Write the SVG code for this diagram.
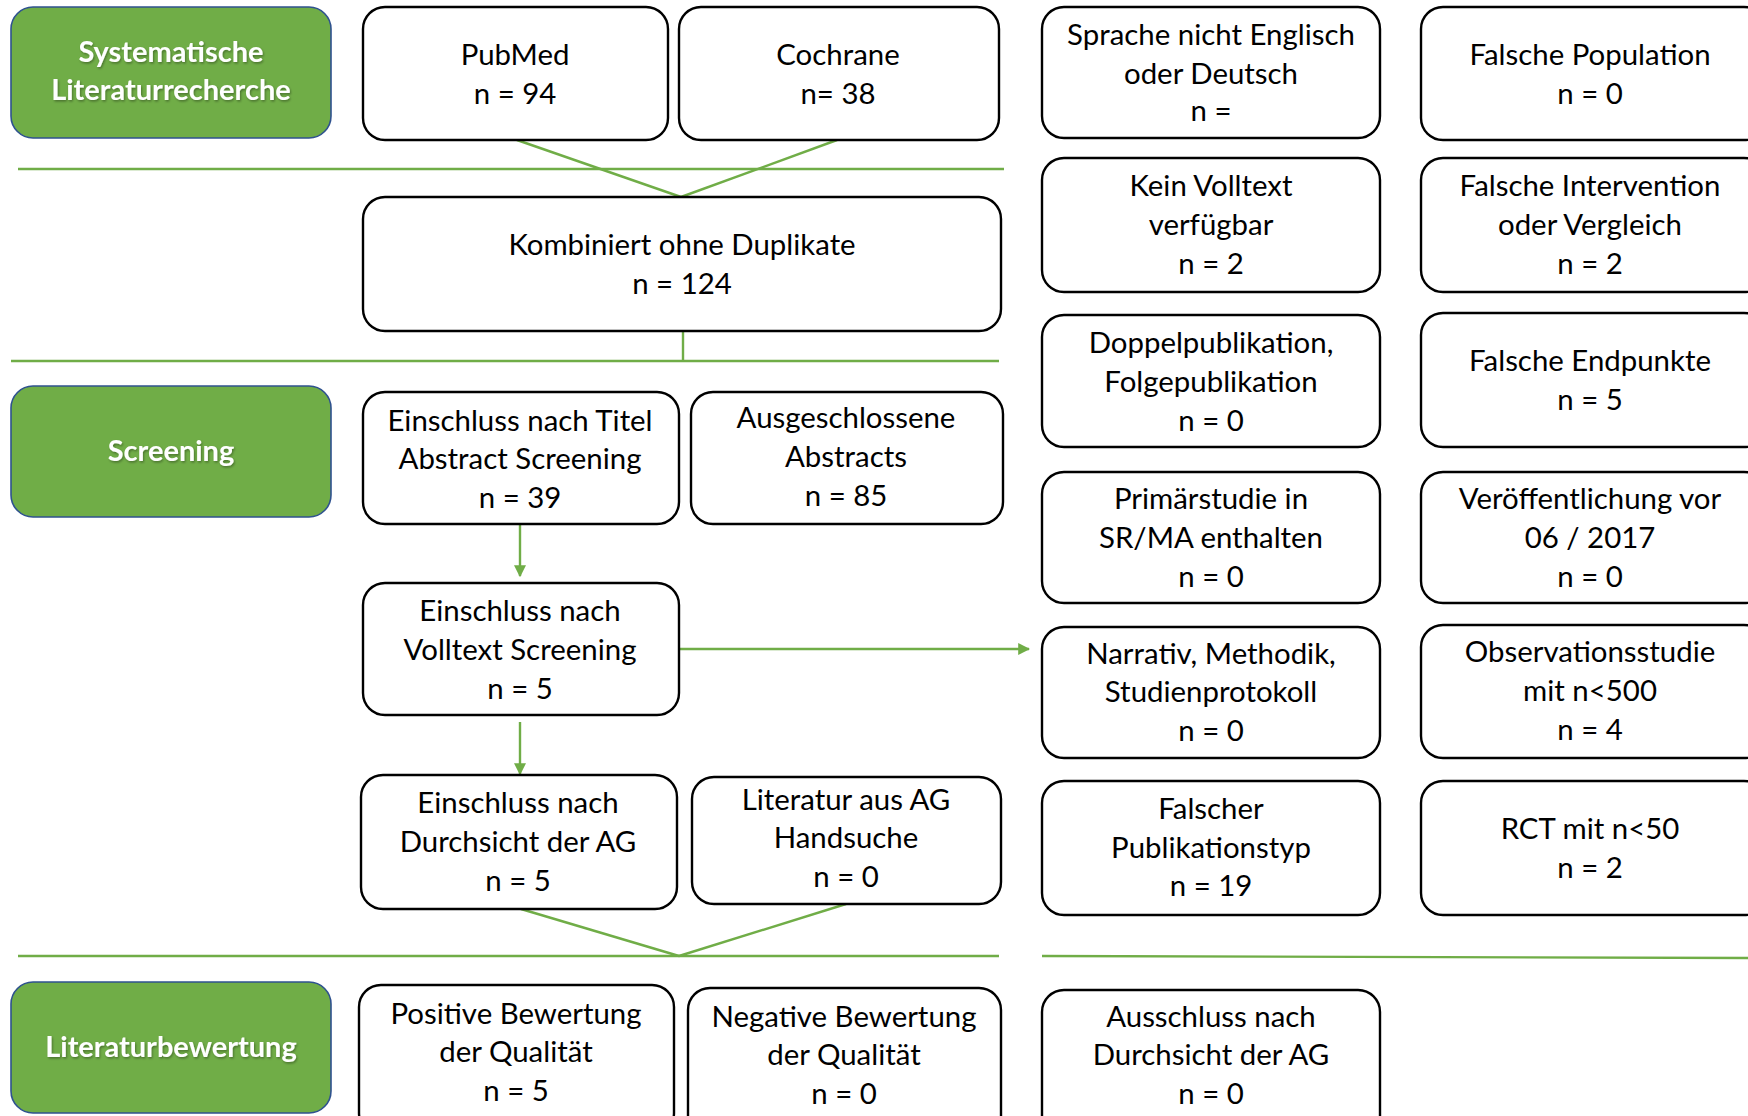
<svg xmlns="http://www.w3.org/2000/svg" width="1748" height="1116" viewBox="0 0 1748 1116">
<style>
.box{fill:#fff;stroke:#000;stroke-width:2.4}
.phase{fill:#70AD47;stroke:#2F528F;stroke-width:1.6}
.t{font-family:Lato,"Liberation Sans",sans-serif;font-size:29.4px;fill:#000;text-anchor:middle}
.pt{font-family:Lato,"Liberation Sans",sans-serif;font-size:29px;font-weight:bold;fill:#fff;text-anchor:middle}
.ln{stroke:#70AD47;stroke-width:2.4;fill:none}
</style>
<defs>
<marker id="ah" viewBox="0 0 10 10" refX="9" refY="5" markerWidth="5" markerHeight="5" orient="auto" markerUnits="strokeWidth">
<path d="M0,0 L10,5 L0,10 z" fill="#70AD47"/>
</marker>
<filter id="sh" x="-5%" y="-20%" width="110%" height="140%">
<feDropShadow dx="1" dy="1.5" stdDeviation="1" flood-color="#000" flood-opacity="0.35"/>
</filter>
</defs>

<g id="connectors">
<line class="ln" x1="18" y1="169" x2="1004" y2="169"/>
<line class="ln" x1="11" y1="361" x2="999" y2="361"/>
<line class="ln" x1="18" y1="956" x2="999" y2="956"/>
<line class="ln" x1="1042" y1="956" x2="1748" y2="958"/>
<line class="ln" x1="517" y1="140" x2="681" y2="197"/>
<line class="ln" x1="837" y1="140" x2="681" y2="197"/>
<line class="ln" x1="683" y1="331" x2="683" y2="362"/>
<line class="ln" x1="520" y1="524" x2="520" y2="576" marker-end="url(#ah)"/>
<line class="ln" x1="520" y1="722" x2="520" y2="774" marker-end="url(#ah)"/>
<line class="ln" x1="679" y1="649" x2="1029" y2="649" marker-end="url(#ah)"/>
<line class="ln" x1="521" y1="909" x2="679" y2="956"/>
<line class="ln" x1="846" y1="904" x2="679" y2="956"/>
</g>

<g id="phase-recherche">
<rect class="phase" x="11" y="7" width="320" height="131" rx="22"/>
<text class="pt" filter="url(#sh)" x="171" y="62">Systematische</text>
<text class="pt" filter="url(#sh)" x="171" y="100">Literaturrecherche</text>
</g>
<g id="phase-screening">
<rect class="phase" x="11" y="386" width="320" height="131" rx="22"/>
<text class="pt" filter="url(#sh)" x="171" y="461">Screening</text>
</g>
<g id="phase-bewertung">
<rect class="phase" x="11" y="982" width="320" height="131" rx="22"/>
<text class="pt" filter="url(#sh)" x="171" y="1057">Literaturbewertung</text>
</g>

<g id="pubmed">
<rect class="box" x="363" y="7" width="305" height="133" rx="22"/>
<text class="t" x="515" y="65">PubMed</text>
<text class="t" x="515" y="104">n = 94</text>
</g>
<g id="cochrane">
<rect class="box" x="679" y="7" width="320" height="133" rx="22"/>
<text class="t" x="838" y="65">Cochrane</text>
<text class="t" x="838" y="104">n= 38</text>
</g>
<g id="kombiniert">
<rect class="box" x="363" y="197" width="638" height="134" rx="22"/>
<text class="t" x="682" y="255">Kombiniert ohne Duplikate</text>
<text class="t" x="682" y="294">n = 124</text>
</g>
<g id="titel-abstract">
<rect class="box" x="363" y="392" width="316" height="132" rx="22"/>
<text class="t" x="520" y="431">Einschluss nach Titel</text>
<text class="t" x="520" y="469">Abstract Screening</text>
<text class="t" x="520" y="508">n = 39</text>
</g>
<g id="ausgeschlossene">
<rect class="box" x="691" y="392" width="312" height="132" rx="22"/>
<text class="t" x="846" y="428">Ausgeschlossene</text>
<text class="t" x="846" y="467">Abstracts</text>
<text class="t" x="846" y="506">n = 85</text>
</g>
<g id="volltext">
<rect class="box" x="363" y="583" width="316" height="132" rx="22"/>
<text class="t" x="520" y="621">Einschluss nach</text>
<text class="t" x="520" y="660">Volltext Screening</text>
<text class="t" x="520" y="699">n = 5</text>
</g>
<g id="durchsicht-ag">
<rect class="box" x="361" y="775" width="316" height="134" rx="22"/>
<text class="t" x="518" y="813">Einschluss nach</text>
<text class="t" x="518" y="852">Durchsicht der AG</text>
<text class="t" x="518" y="891">n = 5</text>
</g>
<g id="handsuche">
<rect class="box" x="692" y="777" width="309" height="127" rx="22"/>
<text class="t" x="846" y="810">Literatur aus AG</text>
<text class="t" x="846" y="848">Handsuche</text>
<text class="t" x="846" y="887">n = 0</text>
</g>
<g id="positiv">
<rect class="box" x="359" y="985" width="315" height="150" rx="22"/>
<text class="t" x="516" y="1024">Positive Bewertung</text>
<text class="t" x="516" y="1062">der Qualität</text>
<text class="t" x="516" y="1101">n = 5</text>
</g>
<g id="negativ">
<rect class="box" x="688" y="988" width="313" height="150" rx="22"/>
<text class="t" x="844" y="1027">Negative Bewertung</text>
<text class="t" x="844" y="1065">der Qualität</text>
<text class="t" x="844" y="1104">n = 0</text>
</g>

<g id="sprache">
<rect class="box" x="1042" y="7" width="338" height="131" rx="22"/>
<text class="t" x="1211" y="45">Sprache nicht Englisch</text>
<text class="t" x="1211" y="84">oder Deutsch</text>
<text class="t" x="1211" y="121">n =</text>
</g>
<g id="kein-volltext">
<rect class="box" x="1042" y="158" width="338" height="134" rx="22"/>
<text class="t" x="1211" y="196">Kein Volltext</text>
<text class="t" x="1211" y="235">verfügbar</text>
<text class="t" x="1211" y="274">n = 2</text>
</g>
<g id="doppelpublikation">
<rect class="box" x="1042" y="315" width="338" height="132" rx="22"/>
<text class="t" x="1211" y="353">Doppelpublikation,</text>
<text class="t" x="1211" y="392">Folgepublikation</text>
<text class="t" x="1211" y="431">n = 0</text>
</g>
<g id="primaerstudie">
<rect class="box" x="1042" y="472" width="338" height="131" rx="22"/>
<text class="t" x="1211" y="509">Primärstudie in</text>
<text class="t" x="1211" y="548">SR/MA enthalten</text>
<text class="t" x="1211" y="587">n = 0</text>
</g>
<g id="narrativ">
<rect class="box" x="1042" y="627" width="338" height="131" rx="22"/>
<text class="t" x="1211" y="664">Narrativ, Methodik,</text>
<text class="t" x="1211" y="702">Studienprotokoll</text>
<text class="t" x="1211" y="741">n = 0</text>
</g>
<g id="publikationstyp">
<rect class="box" x="1042" y="781" width="338" height="134" rx="22"/>
<text class="t" x="1211" y="819">Falscher</text>
<text class="t" x="1211" y="858">Publikationstyp</text>
<text class="t" x="1211" y="896">n = 19</text>
</g>
<g id="ausschluss-ag">
<rect class="box" x="1042" y="990" width="338" height="150" rx="22"/>
<text class="t" x="1211" y="1027">Ausschluss nach</text>
<text class="t" x="1211" y="1065">Durchsicht der AG</text>
<text class="t" x="1211" y="1104">n = 0</text>
</g>

<g id="population">
<rect class="box" x="1421" y="7" width="345" height="133" rx="22"/>
<text class="t" x="1590" y="65">Falsche Population</text>
<text class="t" x="1590" y="104">n = 0</text>
</g>
<g id="intervention">
<rect class="box" x="1421" y="158" width="345" height="134" rx="22"/>
<text class="t" x="1590" y="196">Falsche Intervention</text>
<text class="t" x="1590" y="235">oder Vergleich</text>
<text class="t" x="1590" y="274">n = 2</text>
</g>
<g id="endpunkte">
<rect class="box" x="1421" y="313" width="345" height="134" rx="22"/>
<text class="t" x="1590" y="371">Falsche Endpunkte</text>
<text class="t" x="1590" y="410">n = 5</text>
</g>
<g id="veroeffentlichung">
<rect class="box" x="1421" y="472" width="345" height="131" rx="22"/>
<text class="t" x="1590" y="509">Veröffentlichung vor</text>
<text class="t" x="1590" y="548">06 / 2017</text>
<text class="t" x="1590" y="587">n = 0</text>
</g>
<g id="observationsstudie">
<rect class="box" x="1421" y="625" width="345" height="133" rx="22"/>
<text class="t" x="1590" y="662">Observationsstudie</text>
<text class="t" x="1590" y="701">mit n&lt;500</text>
<text class="t" x="1590" y="740">n = 4</text>
</g>
<g id="rct">
<rect class="box" x="1421" y="781" width="345" height="134" rx="22"/>
<text class="t" x="1590" y="839">RCT mit n&lt;50</text>
<text class="t" x="1590" y="878">n = 2</text>
</g>
</svg>
